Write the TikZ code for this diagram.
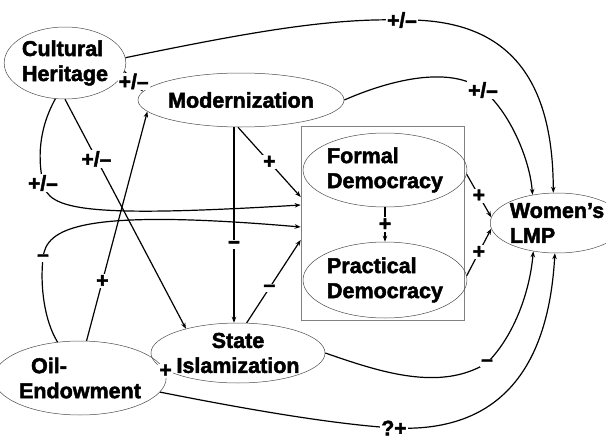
\documentclass[tikz,border=0pt]{standalone}
\usepackage{fontspec}
\setmainfont{Liberation Sans}
\newfontfamily\heavyfont{Liberation Sans Bold}[FakeBold=2.2]
\usetikzlibrary{shapes.geometric,arrows.meta,calc}

\tikzset{
  var/.style={draw=gray!60!black,line width=0.5pt,ellipse,inner sep=0pt,align=left,font=\fontsize{21.5}{25}\heavyfont},
  link/.style={line width=1.2pt,-{Stealth[length=6pt,width=4.5pt]}},
  sign/.style={fill=white,inner sep=1pt,font=\fontsize{21}{21}\heavyfont}
}

\begin{document}
\begin{tikzpicture}[x=1pt,y=-1pt]
\useasboundingbox (0,0) rectangle (606,442);

% Democracy box
\node[draw=gray,line width=0.6pt,minimum width=163pt,minimum height=194pt,inner sep=0pt] (box) at (382.5,223) {};
\coordinate (in1) at ([yshift=26pt]box.west);
\coordinate (in2) at ([yshift=18pt]box.west);
\coordinate (in3) at ([yshift=-4pt]box.west);
\coordinate (in4) at ([yshift=-17pt]box.west);

% Variables
\node[var,minimum width=114pt,minimum height=72pt] (ch) at (65,63) {Cultural\\Heritage};
\node[var,minimum width=166pt,minimum height=54pt] (mod) at (241,100) {Modernization};
\node[var,minimum width=150pt,minimum height=74pt] (fd) at (385,170) {Formal\\Democracy};
\node[var,minimum width=150pt,minimum height=76pt] (pd) at (385,280) {Practical\\Democracy};
\node[var,minimum width=124pt,minimum height=60pt] (wl) at (557,223) {Women’s\\LMP};
\node[var,align=center,minimum width=164pt,minimum height=60pt] (st) at (238,353) {State\\Islamization};
\node[var,minimum width=146pt,minimum height=74pt] (oil) at (80,378) {\hspace*{12pt}Oil-\\Endowment};

% Sign positions on curved links
\coordinate (pA) at (402,20);
\coordinate (pB) at (483,90);
\coordinate (pC) at (43,183);
\coordinate (pF) at (43,258);
\coordinate (pD) at (394,428);
\coordinate (pE) at (487,363);

% Links from Cultural Heritage
\draw[link] (ch.5) .. controls (250,32) and (330,18) .. (pA) node[sign]{+/–} .. controls (510,18) and (553,80) .. (wl.97);
\draw[link] (ch.-8) -- node[sign]{+/–} (mod.175);
\draw[link] (ch.255) .. controls (38,130) and (38,160) .. (pC) node[sign]{+/–} .. controls (48,210) and (85,218) .. (in2);
\draw[link] (ch.south) -- node[sign,pos=0.26]{+/–} (st.155);

% Links from Oil-Endowment
\draw[link] (oil.80) -- node[sign,pos=0.26]{+} (mod.187);
\draw[link] (oil.122) .. controls (44,320) and (40,285) .. (pF) node[sign]{–} .. controls (46,228) and (80,208) .. (in3);
\draw[link] (oil.5) -- node[sign,pos=0.2]{+} (st.195);
\draw[link] (oil.-10) .. controls (240,408) and (330,424) .. (pD) node[sign]{?+} .. controls (520,434) and (550,340) .. (wl.266);

% Links from Modernization
\draw[link] (mod.east) .. controls (390,80) and (450,65) .. (pB) node[sign]{+/–} .. controls (510,112) and (530,160) .. (wl.131);
\draw[link] ([xshift=-7pt]mod.south) -- node[sign,pos=0.6]{–} ([xshift=-4pt]st.north);
\draw[link] ([xshift=-3pt]mod.south) -- node[sign]{+} (in1);

% Links from State Islamization
\draw[link] (st.74) -- node[sign,pos=0.42]{–} (in4);
\draw[link] (st.east) .. controls (380,372) and (440,392) .. (pE) node[sign]{–} .. controls (515,335) and (530,290) .. (wl.230);

% Democracy links
\draw[link] (fd.south) -- node[sign]{+} (pd.north);
\draw[link] (fd.-3) -- node[sign]{+} (wl.175);
\draw[link] (pd.3) -- node[sign]{+} (wl.185);

\end{tikzpicture}
\end{document}
